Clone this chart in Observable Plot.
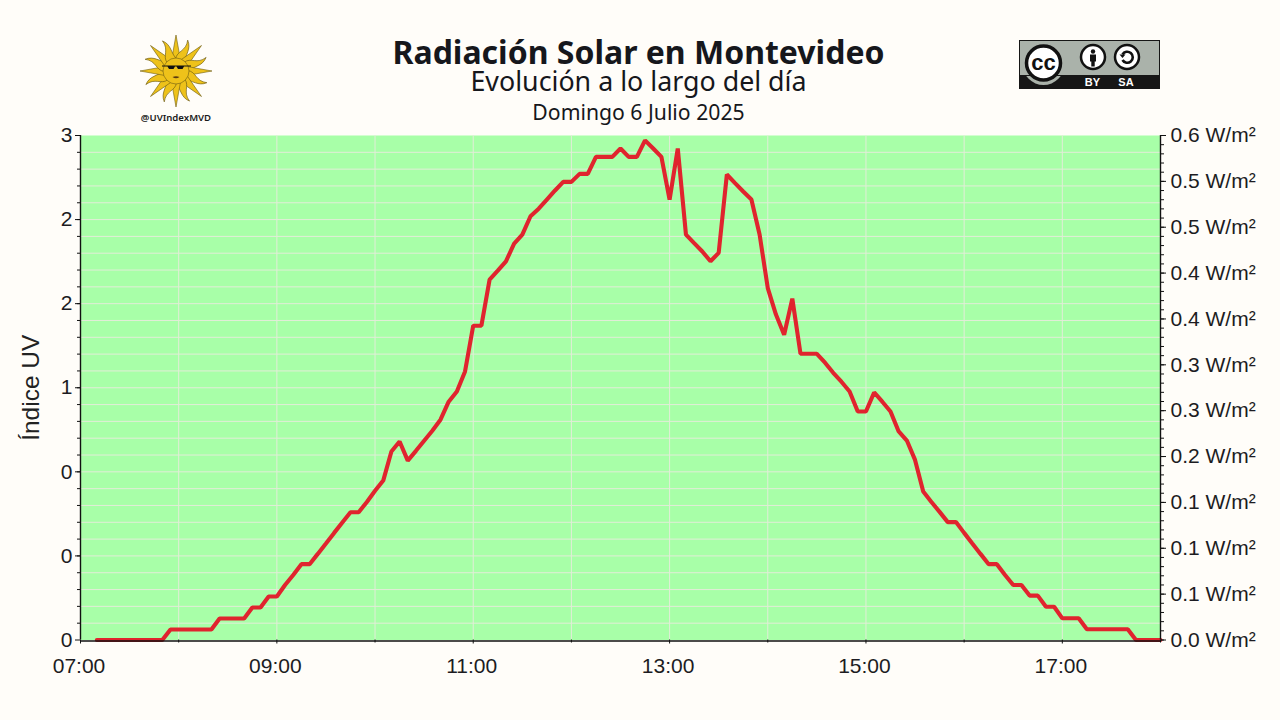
<!DOCTYPE html>
<html lang="es">
<head>
<meta charset="utf-8">
<script src="https://cdn.jsdelivr.net/npm/d3@7"></script>
<script src="https://cdn.jsdelivr.net/npm/@observablehq/plot@0.6"></script>
<style>
  html,body{margin:0;padding:0;background:#fffdf9;width:1280px;height:720px;overflow:hidden}
  #header{position:relative;width:1280px;height:120px;font-family:"Noto Sans",sans-serif;color:#16171c}
  #header .t{position:absolute;left:0;width:1277px;text-align:center;white-space:nowrap}
  #t1{top:36px;font-size:32px;font-weight:700;line-height:32px}
  #t2{top:68px;font-size:26.8px;line-height:26px}
  #t3{top:100px;font-size:21.2px;line-height:24px}
  #sun{position:absolute;left:130px;top:30px}
  #cc{position:absolute;left:1019px;top:40px}
  #chart svg{display:block}
</style>
</head>
<body>
<div id="header">
  <svg id="sun" width="92" height="96" viewBox="0 0 92 96"></svg>
  <div class="t" id="t1">Radiación Solar en Montevideo</div>
  <div class="t" id="t2">Evolución a lo largo del día</div>
  <div class="t" id="t3">Domingo 6 Julio 2025</div>
  <svg id="cc" width="141" height="49" viewBox="0 0 141 49">
    <rect x="0.5" y="0.5" width="140" height="48" fill="#aab2aa" stroke="#161616"/>
    <rect x="0" y="35" width="141" height="14" fill="#161616"/>
    <circle cx="24.5" cy="24" r="21" fill="#aab2aa"/>
    <rect x="0.5" y="0.5" width="140" height="35" fill="none" stroke="#161616"/>
    <circle cx="24.5" cy="23" r="17" fill="#fff" stroke="#111" stroke-width="3.5"/>
    <text x="24.5" y="30" text-anchor="middle" font-family="Liberation Sans" font-weight="700" font-size="22" fill="#111">cc</text>
    <circle cx="74" cy="17" r="12" fill="#fff" stroke="#111" stroke-width="2.5"/>
    <circle cx="74" cy="11.5" r="2.2" fill="#111"/>
    <rect x="71" y="14.5" width="6" height="7" fill="#111"/>
    <rect x="72.3" y="21" width="3.4" height="5.5" fill="#111"/>
    <circle cx="108" cy="17" r="12" fill="#fff" stroke="#111" stroke-width="2.5"/>
    <path d="M103.5 14.5a5.5 5.5 0 1 1 0 5.5" fill="none" stroke="#111" stroke-width="2.6"/>
    <path d="M100.5 14.5h6l-3 3.5z" fill="#111"/>
    <text x="73.5" y="46" text-anchor="middle" font-family="Liberation Sans" font-weight="700" font-size="11" fill="#fff">BY</text>
    <text x="107" y="46" text-anchor="middle" font-family="Liberation Sans" font-weight="700" font-size="11" fill="#fff">SA</text>
  </svg>
</div>
<div id="chart"></div>
<script>
// Sampling: one reading every five minutes, first reading at 07:10
const startHour = 7 + 10 / 60;
const stepHours = 5 / 60;

// UV index
const uvValues = [
  0,0,0,0,0,0,0,0,0,
  0.0625,0.0625,0.0625,0.0625,0.0625,0.0625,
  0.128,0.128,0.128,0.128,
  0.193,0.193,0.259,0.259,0.327,0.387,0.451,0.451,
  0.512,0.574,0.637,0.699,0.760,0.760,0.821,0.887,0.948,
  1.121,1.180,1.067,1.125,1.185,1.244,1.310,1.417,1.478,1.597,
  1.869,1.869,2.143,2.196,2.252,2.357,2.411,2.520,2.565,2.619,2.673,
  2.724,2.724,2.772,2.772,2.873,2.873,2.873,2.923,2.873,2.873,
  2.971,2.923,2.873,2.619,2.923,2.411,2.360,2.310,2.252,2.302,
  2.768,2.717,2.667,2.619,2.411,2.093,1.935,1.815,2.030,
  1.702,1.702,1.702,1.649,1.589,1.536,1.478,1.359,1.359,1.472,1.417,1.359,
  1.240,1.186,1.071,0.883,0.821,0.762,0.701,0.701,0.637,0.574,0.512,
  0.451,0.451,0.387,0.327,0.327,0.264,0.264,0.198,0.198,
  0.129,0.129,0.129,
  0.064,0.064,0.064,0.064,0.064,0.064,
  0,0,0,0
];

const xTicks = [7, 9, 11, 13, 15, 17];
const xLabels = ["07:00", "09:00", "11:00", "13:00", "15:00", "17:00"];
const xMinor = [8, 10, 12, 14, 16, 18];
const xGrid = [8, 9, 10, 11, 12, 13, 14, 15, 16, 17];
const xDomain = [7, 18];

const leftTicks = [0, 0.5, 1, 1.5, 2, 2.5, 3];
const leftLabels = ["0", "0", "0", "1", "2", "2", "3"];
const yGrid = [0.1,0.2,0.3,0.4,0.5,0.6,0.7,0.8,0.9,1,1.1,1.2,1.3,1.4,1.5,1.6,1.7,1.8,1.9,2,2.1,2.2,2.3,2.4,2.5,2.6,2.7,2.8,2.9];

const rightText = ["0.0 W/m²","0.1 W/m²","0.1 W/m²","0.1 W/m²","0.2 W/m²","0.3 W/m²","0.3 W/m²","0.4 W/m²","0.4 W/m²","0.5 W/m²","0.5 W/m²","0.6 W/m²"];
const rightCount = 11;
const rightTop = 3;

const rows = uvValues.map((uv, i) => ({hour: startHour + i * stepHours, uv}));
const rightTicks = d3.range(rightCount + 1).map(k => rightTop * k / rightCount);
const rightMinor = d3.range(rightCount * 5 + 1).map(k => rightTop * k / (rightCount * 5));

const ink = "#1c1c22";
const gridInk = "#e2edd8";
const axisFont = 21;

const chart = Plot.plot({
  width: 1280,
  height: 600,
  marginTop: 15,
  marginBottom: 80.5,
  marginLeft: 80,
  marginRight: 120,
  style: {background: "transparent", fontFamily: "'Liberation Sans', sans-serif"},
  x: {domain: xDomain, axis: null},
  y: {domain: [0, 3], axis: null},
  marks: [
    Plot.frame({fill: "#a8ffa8", stroke: "none"}),
    Plot.ruleY(yGrid, {stroke: gridInk, strokeWidth: 1}),
    Plot.ruleX(xGrid, {stroke: gridInk, strokeWidth: 1}),
    Plot.line(rows, {x: "hour", y: "uv", stroke: "#e0242e", strokeWidth: 4.1, strokeLinejoin: "miter", curve: "linear"}),
    Plot.axisY(yGrid, {anchor: "left", tickSize: 3, tickFormat: () => "", label: null, stroke: "#111"}),
    Plot.axisY(leftTicks, {anchor: "left", tickSize: 5, tickPadding: 3, fontSize: axisFont, label: null, stroke: "#111", fill: ink,
      tickFormat: d => leftLabels[leftTicks.indexOf(d)]}),
    Plot.axisY(rightMinor, {anchor: "right", tickSize: 3, tickFormat: () => "", label: null, stroke: "#111"}),
    Plot.axisY(rightTicks, {anchor: "right", tickSize: 5, tickPadding: 5, fontSize: axisFont, label: null, stroke: "#111", fill: ink,
      tickFormat: d => rightText[rightTicks.indexOf(d)]}),
    Plot.axisX(xMinor, {anchor: "bottom", tickSize: 3, tickFormat: () => "", label: null, stroke: "#111"}),
    Plot.axisX(xTicks, {anchor: "bottom", tickSize: 4, tickFormat: () => "", label: null, stroke: "#111"}),
    Plot.axisX(xTicks, {anchor: "bottom", tickSize: 0, tickPadding: 18, dx: -1.5, fontSize: axisFont, label: null, fill: ink,
      tickFormat: d => xLabels[xTicks.indexOf(d)]}),
    Plot.ruleX(xDomain, {stroke: "#111", strokeWidth: 1.4}),
    Plot.ruleY([0], {stroke: "#111", strokeWidth: 1.4, dy: 1}),
    Plot.text(["Índice UV"], {frameAnchor: "left", textAnchor: "middle", rotate: -90, dx: -49, fontSize: 24.5, fill: "#222"})
  ]
});
document.getElementById("chart").appendChild(chart);

// Decorative logo
(function () {
  const svg = d3.select("#sun");
  const cx = 46, cy = 41, n = 16;
  const g = svg.append("g").attr("transform", `translate(${cx},${cy})`);
  for (let i = 0; i < n; i++) {
    const a = i * 360 / n;
    const straight = i % 2 === 0;
    const d = straight
      ? "M-4.5,-11 L0,-36 L4.5,-11 Z"
      : "M-5,-11 C-7,-19 2,-22 -1,-33 C6,-26 2,-19 5,-11 Z";
    g.append("path").attr("d", d).attr("transform", `rotate(${a})`)
      .attr("fill", "#eec21a").attr("stroke", "#6d5c12").attr("stroke-width", 0.6);
  }
  g.append("circle").attr("r", 13).attr("fill", "#eec21a").attr("stroke", "#6d5c12").attr("stroke-width", 0.6);
  g.append("path").attr("d", "M-14,-5.5 H15 V-4.5 H8 L6.5,-2 H2 L0.5,-4.5 H-1 L-2.5,-2 H-7 L-8.5,-4.5 H-14 Z").attr("fill", "#111");
  g.append("path").attr("d", "M-3.5,6 Q0,4.5 3.5,6 Q0,8.5 -3.5,6 Z").attr("fill", "#5a3a10");
  svg.append("text").attr("x", 46).attr("y", 91).attr("text-anchor", "middle")
    .attr("font-family", "Noto Sans").attr("font-weight", 600).attr("font-size", 9.6).attr("fill", "#1a1a1a").text("@UVIndexMVD");
})();
</script>
</body>
</html>
